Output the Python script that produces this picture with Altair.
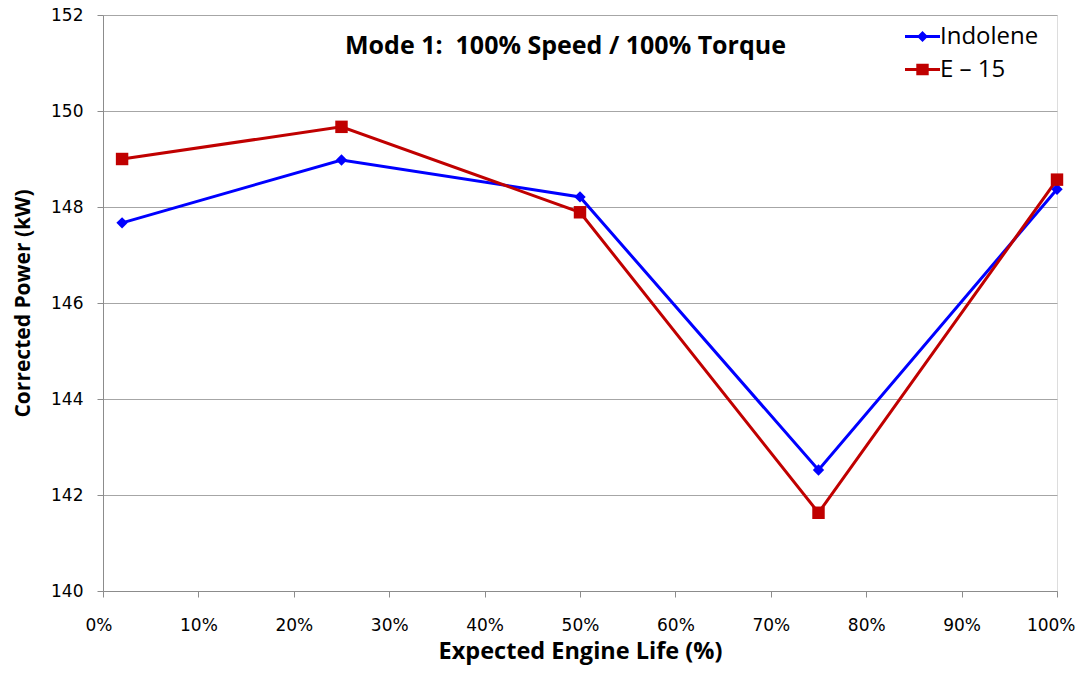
import altair as alt
import pandas as pd

# ---- data ----
life = [0.02, 0.25, 0.50, 0.75, 1.00]
indolene = [147.67, 148.98, 148.21, 142.52, 148.37]
e15 = [149.00, 149.67, 147.89, 141.63, 148.57]
series_names = ["Indolene", "E – 15"]
series_colors = ["#0000FF", "#C00000"]
y_ticks = [140, 142, 144, 146, 148, 150, 152]
x_ticks = [0.0, 0.1, 0.2, 0.3, 0.4, 0.5, 0.6, 0.7, 0.8, 0.9, 1.0]

df = pd.DataFrame({
    "life": life + life,
    "power": indolene + e15,
    "series": [series_names[0]] * len(life) + [series_names[1]] * len(life),
})

# legend symbols: line segment + marker
legend_shapes = [
    "M-1.75,-0.15H1.75V0.15H-1.75Z M0,-0.55L0.55,0L0,0.55L-0.55,0Z",
    "M-1.75,-0.15H1.75V0.15H-1.75Z M-0.62,-0.57H0.62V0.57H-0.62Z",
]

FONT_B = "Open Sans"
FONT_T = "DejaVu Sans"
GRAY = "#8c8c8c"

x_enc = alt.X(
    "life:Q",
    scale=alt.Scale(domain=[0, 1], nice=False, zero=False),
    axis=alt.Axis(
        values=x_ticks, format=".0%", title="Expected Engine Life (%)",
        grid=False, domainColor=GRAY, tickColor=GRAY, tickSize=6,
        labelFont=FONT_T, labelFontSize=17, labelColor="#000000", labelPadding=20,
        labelFlush=True, labelFlushOffset=18,
        titleFont=FONT_B, titleFontSize=23.5, titleFontWeight="bold", titleColor="#000000",
        titleX=477, titleY=60, titleBaseline="middle", titleAnchor="middle",
    ),
)
y_enc = alt.Y(
    "power:Q",
    scale=alt.Scale(domain=[140, 152], nice=False, zero=False),
    axis=alt.Axis(
        values=y_ticks, title="Corrected Power (kW)",
        grid=True, gridColor="#a6a6a6", gridWidth=1,
        domainColor=GRAY, tickColor=GRAY, tickSize=6,
        labelFont=FONT_T, labelFontSize=17, labelColor="#000000", labelPadding=14,
        titleFont=FONT_B, titleFontSize=21, titleFontWeight="bold", titleColor="#000000",
        titleX=-80, titleY=288, titleBaseline="middle", titleAlign="center", titleAngle=270,
    ),
)
color_scale = alt.Scale(domain=series_names, range=series_colors)
color_none = alt.Color("series:N", scale=color_scale, legend=None)

base = alt.Chart(df)

lines = base.mark_line(strokeWidth=3).encode(x=x_enc, y=y_enc, color=color_none)

pts_ind = base.transform_filter(alt.datum.series == series_names[0]).mark_point(
    shape="diamond", filled=True, size=130, opacity=1
).encode(x=x_enc, y=y_enc, color=color_none)

pts_e15 = base.transform_filter(alt.datum.series == series_names[1]).mark_point(
    shape="square", filled=True, size=155, opacity=1
).encode(x=x_enc, y=y_enc, color=color_none)

legend_cfg = dict(
    title=None, orient="none", legendX=807.5, legendY=9.5,
    labelFont="Open Sans", labelFontSize=24, labelColor="#000000",
    labelOffset=5.5, symbolSize=400, symbolStrokeWidth=0, rowPadding=9,
    padding=0, symbolOpacity=1,
)

legend_layer = base.mark_point(filled=True, opacity=0).encode(
    x=x_enc, y=y_enc,
    color=alt.Color("series:N", scale=color_scale, legend=alt.Legend(**legend_cfg)),
    shape=alt.Shape(
        "series:N",
        scale=alt.Scale(domain=series_names, range=legend_shapes),
        legend=alt.Legend(**legend_cfg),
    ),
)

chart = (
    alt.layer(legend_layer, lines, pts_ind, pts_e15)
    .resolve_legend(color="independent", shape="independent")
    .properties(
        width=954, height=576,
        autosize=alt.AutoSizeParams(type="none"),
        padding={"left": 95, "top": 7, "right": 21, "bottom": 74},
        title=alt.TitleParams(
            "Mode 1:\u00a0 100% Speed / 100% Torque",
            font=FONT_B, fontSize=25, fontWeight="bold", color="#000000",
            anchor="middle", frame="group", offset=-36, baseline="middle",
            dx=-14.5, dy=29,
        ),
    )
    .configure_view(stroke=None)
    .configure(background="#ffffff")
)

chart.save("out.html", embed_options={"renderer": "svg", "actions": False})
